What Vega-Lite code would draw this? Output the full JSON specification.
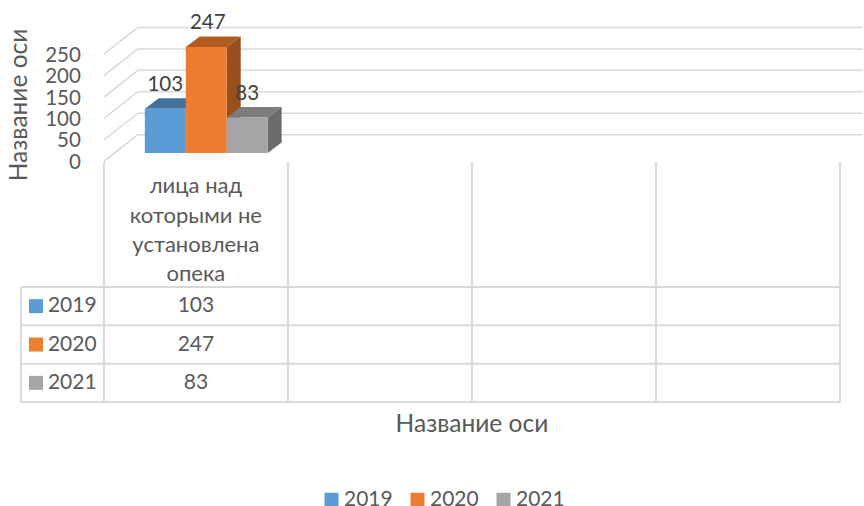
{"$schema":"https://vega.github.io/schema/vega-lite/v6.json","width":864,"height":506,"autosize":{"type":"fit","contains":"padding"},"padding":0,"background":"white","config":{"view":{"stroke":null},"text":{"font":"Lato","fontSize":21,"color":"#595959"}},"datasets":{"bars":[{"year":"2019","value":103,"idx":0},{"year":"2020","value":247,"idx":1},{"year":"2021","value":83,"idx":2}],"ticks":[{"tick":0},{"tick":50},{"tick":100},{"tick":150},{"tick":200},{"tick":250}],"cols":[{"c":0},{"c":1},{"c":2},{"c":3},{"c":4}],"rows":[{"r":0},{"r":1},{"r":2},{"r":3}]},"resolve":{"scale":{"y":"independent"}},"layer":[{"layer":[{"data":{"name":"ticks"},"transform":[{"calculate":"datum.tick+42.7","as":"back"},{"calculate":"datum.tick-19.6","as":"front"},{"calculate":"datum.tick-23","as":"lab"},{"calculate":"0.1845","as":"u0"},{"calculate":"4.125","as":"u1"},{"calculate":"0","as":"u2"}],"layer":[{"mark":{"type":"rule","color":"#D9D9D9","strokeWidth":1.5},"encoding":{"x":{"field":"u0","type":"quantitative","scale":{"domain":[-0.5645,4.125],"nice":false,"zero":false},"axis":null},"x2":{"field":"u1"},"y":{"field":"back","type":"quantitative","scale":{"domain":[-822.6,356.6],"nice":false,"zero":false},"axis":null}}},{"mark":{"type":"rule","color":"#D9D9D9","strokeWidth":1.5},"encoding":{"x":{"field":"u2","type":"quantitative","axis":null,"scale":{"domain":[-0.5645,4.125],"nice":false,"zero":false}},"x2":{"field":"u0"},"y":{"field":"front","type":"quantitative","axis":null,"scale":{"domain":[-822.6,356.6],"nice":false,"zero":false}},"y2":{"field":"back"}}},{"mark":{"type":"text","align":"right","baseline":"middle","fontSize":20.5},"transform":[{"calculate":"-0.125","as":"lx"}],"encoding":{"x":{"field":"lx","type":"quantitative","axis":null,"scale":{"domain":[-0.5645,4.125],"nice":false,"zero":false}},"y":{"field":"lab","type":"quantitative","axis":null,"scale":{"domain":[-822.6,356.6],"nice":false,"zero":false}},"text":{"field":"tick","type":"quantitative"}}}]},{"data":{"name":"bars"},"transform":[{"calculate":"['a_top','b_side','c_front']","as":"face"},{"flatten":["face"]},{"calculate":"[0,1,2,3]","as":"corner"},{"flatten":["corner"]},{"filter":"datum.face==='a_top'||datum.corner===0||datum.corner===3"},{"calculate":"0.2225+datum.idx*0.2225","as":"x0"},{"calculate":"datum.face==='c_front'?(datum.corner===0?datum.x0:datum.x0+0.2225):datum.face==='b_side'?(datum.corner===0?datum.x0+0.2225:datum.x0+0.2225+0.076):(datum.corner===0?datum.x0:datum.corner===1?datum.x0+0.076:datum.corner===2?datum.x0+0.2225:datum.x0+0.2225+0.076)","as":"px"},{"calculate":"datum.face==='c_front'?datum.value:(datum.corner===0?datum.value:datum.value+24.5)","as":"py"},{"calculate":"datum.face==='c_front'?0:datum.face==='b_side'?(datum.corner===0?0:24.5):(datum.corner===3?datum.value+24.5:datum.value)","as":"py2"},{"calculate":"datum.year+'_'+datum.face","as":"shade"}],"mark":{"type":"area"},"encoding":{"x":{"field":"px","type":"quantitative","axis":null,"scale":{"domain":[-0.5645,4.125],"nice":false,"zero":false}},"y":{"field":"py","type":"quantitative","axis":null,"scale":{"domain":[-822.6,356.6],"nice":false,"zero":false}},"y2":{"field":"py2"},"color":{"field":"shade","type":"nominal","legend":null,"scale":{"domain":["2019_a_top","2019_b_side","2019_c_front","2020_a_top","2020_b_side","2020_c_front","2021_a_top","2021_b_side","2021_c_front"],"range":["#43729F","#38618A","#5B9BD5","#B25A22","#974F1C","#ED7D31","#7C7C7C","#6B6B6B","#A5A5A5"]}}}},{"data":{"name":"bars"},"transform":[{"calculate":"0.2225+datum.idx*0.2225+0.1112+(datum.idx==1?0.008:0)","as":"lx"},{"calculate":"datum.value+(datum.idx==1?57:(datum.idx==0?55:55))","as":"ly"}],"mark":{"type":"text","baseline":"middle","align":"center","fontSize":20.5,"color":"#404040"},"encoding":{"x":{"field":"lx","type":"quantitative","axis":null,"scale":{"domain":[-0.5645,4.125],"nice":false,"zero":false}},"y":{"field":"ly","type":"quantitative","axis":null,"scale":{"domain":[-822.6,356.6],"nice":false,"zero":false}},"text":{"field":"value","type":"quantitative"}}},{"data":{"values":[{"t":"Название оси","u":-0.456,"v":112}]},"mark":{"type":"text","angle":270,"align":"center","baseline":"middle","fontSize":24.5},"encoding":{"x":{"field":"u","type":"quantitative","axis":null,"scale":{"domain":[-0.5645,4.125],"nice":false,"zero":false}},"y":{"field":"v","type":"quantitative","axis":null,"scale":{"domain":[-822.6,356.6],"nice":false,"zero":false}},"text":{"field":"t"}}}]},{"layer":[{"data":{"name":"rows"},"transform":[{"calculate":"-0.4510","as":"u0"},{"calculate":"4","as":"u1"}],"mark":{"type":"rule","color":"#D9D9D9","strokeWidth":2},"encoding":{"x":{"field":"u0","type":"quantitative","axis":null,"scale":{"domain":[-0.5645,4.125],"nice":false,"zero":false}},"x2":{"field":"u1"},"y":{"field":"r","type":"quantitative","axis":null,"scale":{"domain":[5.713,-7.487],"nice":false,"zero":false}}}},{"data":{"name":"cols"},"transform":[{"calculate":"-3.26","as":"r0"},{"calculate":"3","as":"r1"}],"mark":{"type":"rule","color":"#D9D9D9","strokeWidth":2},"encoding":{"x":{"field":"c","type":"quantitative","axis":null,"scale":{"domain":[-0.5645,4.125],"nice":false,"zero":false}},"y":{"field":"r0","type":"quantitative","axis":null,"scale":{"domain":[5.713,-7.487],"nice":false,"zero":false}},"y2":{"field":"r1"}}},{"data":{"values":[{"z":0}]},"transform":[{"calculate":"-0.4510","as":"u"},{"calculate":"0","as":"r0"},{"calculate":"3","as":"r1"}],"mark":{"type":"rule","color":"#D9D9D9","strokeWidth":2},"encoding":{"x":{"field":"u","type":"quantitative","axis":null,"scale":{"domain":[-0.5645,4.125],"nice":false,"zero":false}},"y":{"field":"r0","type":"quantitative","axis":null,"scale":{"domain":[5.713,-7.487],"nice":false,"zero":false}},"y2":{"field":"r1"}}},{"data":{"values":[{"t":"лица над\nкоторыми не\nустановлена\nопека","u":0.5,"r":-2.89}]},"mark":{"type":"text","lineBreak":"\n","lineHeight":29.3,"baseline":"top","align":"center","fontSize":22},"encoding":{"x":{"field":"u","type":"quantitative","axis":null,"scale":{"domain":[-0.5645,4.125],"nice":false,"zero":false}},"y":{"field":"r","type":"quantitative","axis":null,"scale":{"domain":[5.713,-7.487],"nice":false,"zero":false}},"text":{"field":"t"}}},{"data":{"values":[{"t":"Название оси","u":2.0,"r":3.6}]},"mark":{"type":"text","align":"center","baseline":"middle","fontSize":24.5},"encoding":{"x":{"field":"u","type":"quantitative","axis":null,"scale":{"domain":[-0.5645,4.125],"nice":false,"zero":false}},"y":{"field":"r","type":"quantitative","axis":null,"scale":{"domain":[5.713,-7.487],"nice":false,"zero":false}},"text":{"field":"t"}}},{"data":{"name":"bars"},"transform":[{"calculate":"datum.idx+0.5","as":"rc"},{"calculate":"-0.369","as":"ks"},{"calculate":"-0.304","as":"kt"},{"calculate":"0.5","as":"vc"}],"layer":[{"mark":{"type":"point","shape":"square","filled":true,"size":196,"opacity":1},"encoding":{"x":{"field":"ks","type":"quantitative","axis":null,"scale":{"domain":[-0.5645,4.125],"nice":false,"zero":false}},"y":{"field":"rc","type":"quantitative","axis":null,"scale":{"domain":[5.713,-7.487],"nice":false,"zero":false}},"fill":{"field":"year","type":"nominal","scale":{"domain":["2019","2020","2021"],"range":["#5B9BD5","#ED7D31","#A5A5A5"]},"legend":{"orient":"none","legendX":321,"legendY":489,"direction":"horizontal","title":null,"symbolType":"square","symbolSize":196,"symbolStrokeWidth":0,"labelFont":"Lato","labelFontSize":21,"labelColor":"#595959","columnPadding":14,"labelOffset":2}}}},{"mark":{"type":"text","align":"left","baseline":"middle"},"encoding":{"x":{"field":"kt","type":"quantitative","axis":null,"scale":{"domain":[-0.5645,4.125],"nice":false,"zero":false}},"y":{"field":"rc","type":"quantitative","axis":null,"scale":{"domain":[5.713,-7.487],"nice":false,"zero":false}},"text":{"field":"year"}}},{"mark":{"type":"text","align":"center","baseline":"middle"},"encoding":{"x":{"field":"vc","type":"quantitative","axis":null,"scale":{"domain":[-0.5645,4.125],"nice":false,"zero":false}},"y":{"field":"rc","type":"quantitative","axis":null,"scale":{"domain":[5.713,-7.487],"nice":false,"zero":false}},"text":{"field":"value","type":"quantitative"}}}]}]}]}
